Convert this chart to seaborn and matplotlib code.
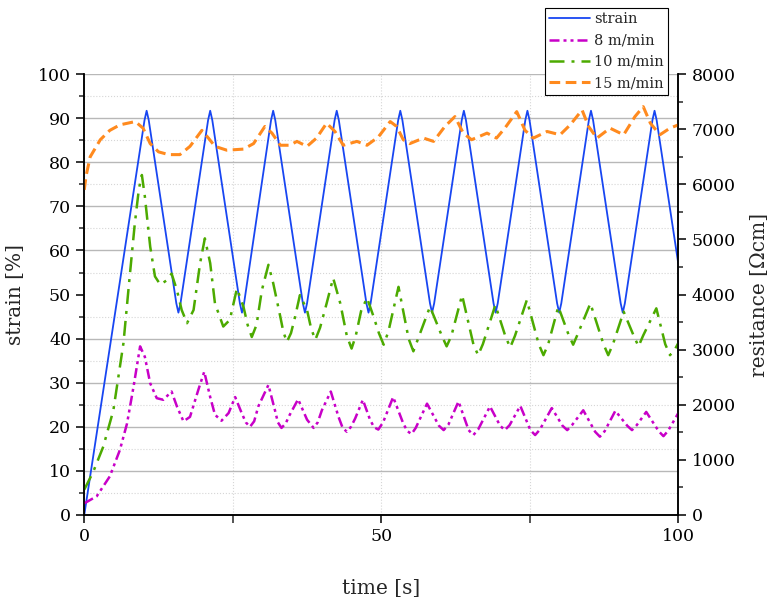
import numpy as np
import pandas as pd
import seaborn as sns
import matplotlib.pyplot as plt
from matplotlib.ticker import MultipleLocator

# strain profile [%] vs time [s]
strain_t = [0.0, 10.15, 10.5, 10.85, 15.5, 15.85, 16.2, 20.85, 21.2, 21.55,
            26.2, 26.55, 26.9, 31.45, 31.8, 32.15, 36.8, 37.15, 37.5, 42.15,
            42.5, 42.85, 47.5, 47.85, 48.2, 52.85, 53.2, 53.55, 58.2, 58.55,
            58.9, 63.55, 63.9, 64.25, 68.9, 69.25, 69.6, 74.25, 74.6, 74.95,
            79.6, 79.95, 80.3, 84.95, 85.3, 85.65, 90.3, 90.65, 91.0, 95.65,
            96.0, 96.35, 100.0]
strain_v = [0.0, 89.6, 91.7, 89.6, 48.0, 45.9, 48.0, 89.6, 91.7, 89.6,
            48.0, 45.9, 48.0, 89.6, 91.7, 89.6, 48.0, 45.9, 48.0, 89.6,
            91.7, 89.6, 48.0, 45.9, 48.0, 89.6, 91.7, 89.6, 48.0, 45.9,
            48.0, 89.6, 91.7, 89.6, 48.0, 45.9, 48.0, 89.6, 91.7, 89.6,
            48.0, 45.9, 48.0, 89.6, 91.7, 89.6, 48.0, 45.9, 48.0, 89.6,
            91.7, 89.6, 57.0]

# resistance [Ohm cm], 8 m/min
r8_t = [0.0, 2.1, 4.3, 6.0, 7.2, 8.3, 9.4, 10.2, 11.1, 12.2, 13.3, 14.7, 15.6,
        16.7, 17.8, 19.2, 20.2, 21.2, 22.0, 23.1, 24.3, 25.4, 26.5, 27.2, 27.9,
        28.6, 29.3, 31.0, 32.1, 32.6, 33.2, 33.9, 34.6, 36.0, 37.5, 38.6, 39.3,
        40.0, 41.5, 42.8, 43.5, 44.2, 44.9, 45.6, 46.9, 48.1, 48.8, 49.5, 50.3,
        52.0, 53.7, 54.4, 55.1, 55.8, 57.7, 59.7, 60.5, 61.3, 63.0, 64.7, 65.5,
        66.3, 68.3, 70.0, 70.8, 71.6, 73.4, 75.1, 75.9, 76.7, 78.7, 80.5, 81.3,
        82.1, 84.0, 86.0, 86.8, 87.6, 89.4, 91.4, 92.2, 93.0, 94.6, 96.7, 97.5,
        98.3, 100.0]
r8_v = [210, 340, 700, 1180, 1660, 2330, 3060, 2870, 2390, 2120, 2090, 2240, 1970,
        1700, 1780, 2270, 2600, 2140, 1820, 1710, 1850, 2140, 1850, 1680, 1600,
        1700, 1970, 2360, 1900, 1680, 1580, 1660, 1820, 2100, 1730, 1580, 1680,
        1900, 2240, 1780, 1580, 1510, 1600, 1750, 2090, 1730, 1590, 1550, 1680,
        2140, 1660, 1520, 1470, 1580, 2020, 1620, 1540, 1640, 2060, 1540, 1450,
        1550, 1970, 1620, 1540, 1630, 1980, 1540, 1450, 1550, 1940, 1620, 1540,
        1630, 1900, 1510, 1420, 1520, 1890, 1620, 1540, 1630, 1870, 1520, 1430,
        1530, 1850]

# resistance [Ohm cm], 10 m/min
r10_t = [0.0, 1.5, 3.2, 4.9, 6.6, 7.5, 8.5, 9.2, 9.7, 10.2, 11.1, 11.9, 12.8,
         13.9, 14.7, 15.6, 16.4, 17.3, 18.4, 19.5, 20.3, 21.2, 22.0, 23.4, 24.5,
         25.7, 26.8, 27.5, 28.2, 29.0, 29.9, 31.0, 31.8, 33.0, 33.5, 34.1, 34.8,
         35.5, 36.3, 37.5, 38.2, 38.9, 39.7, 40.8, 41.9, 43.1, 44.2, 45.0, 45.7,
         46.6, 47.6, 48.7, 49.6, 50.4, 51.2, 52.9, 54.6, 55.4, 56.2, 58.2, 60.2,
         61.0, 61.8, 63.6, 65.5, 66.3, 67.1, 69.2, 70.9, 71.7, 72.5, 74.5, 76.5,
         77.3, 78.1, 79.8, 81.5, 82.3, 83.1, 85.2, 87.4, 88.2, 89.0, 90.8, 92.5,
         93.3, 94.1, 96.3, 97.8, 98.6, 99.3, 100.0]
r10_v = [460, 780, 1240, 1900, 3120, 4160, 5280, 5920, 6170, 5780, 4870, 4330, 4180,
         4260, 4380, 4080, 3720, 3480, 3720, 4570, 5020, 4570, 3840, 3420, 3540,
         4110, 3780, 3450, 3230, 3450, 4080, 4540, 4210, 3600, 3330, 3140, 3300,
         3600, 3990, 3720, 3380, 3180, 3400, 3840, 4300, 3840, 3250, 3020, 3250,
         3700, 3940, 3600, 3300, 3090, 3330, 4140, 3200, 2970, 3200, 3780, 3250,
         3060, 3250, 3990, 3100, 2900, 3100, 3810, 3240, 3040, 3250, 3900, 3100,
         2900, 3100, 3780, 3280, 3090, 3290, 3840, 3100, 2900, 3100, 3690, 3250,
         3060, 3260, 3750, 3100, 2900, 2980, 3120]

# resistance [Ohm cm], 15 m/min
r15_t = [0.0, 0.3, 1.0, 2.7, 4.3, 6.0, 8.6, 9.9, 11.1, 12.5, 14.2, 16.1, 17.8,
         19.8, 20.9, 22.0, 24.0, 26.8, 28.5, 30.4, 31.6, 33.0, 34.6, 35.8, 37.5,
         39.1, 40.8, 42.2, 43.6, 45.9, 47.6, 49.5, 51.5, 52.6, 53.7, 54.8, 57.1,
         58.8, 60.7, 62.4, 63.8, 65.2, 67.8, 69.4, 70.8, 72.8, 74.2, 75.6, 77.9,
         80.1, 81.8, 83.8, 84.9, 86.3, 88.5, 90.8, 92.7, 94.1, 95.3, 96.9, 98.6,
         100.0]
r15_v = [5900, 6150, 6500, 6810, 6980, 7080, 7140, 7020, 6740, 6590, 6540, 6540, 6690,
         6980, 6840, 6690, 6620, 6640, 6740, 7050, 6930, 6710, 6710, 6780, 6690,
         6840, 7110, 6960, 6710, 6780, 6710, 6860, 7140, 7050, 6810, 6740, 6840,
         6780, 7050, 7230, 6930, 6810, 6930, 6840, 7020, 7320, 6980, 6840, 6960,
         6900, 7080, 7350, 7050, 6840, 7020, 6900, 7230, 7410, 7110, 6900, 7020,
         7080]

df_strain = pd.DataFrame({'time': strain_t, 'strain': strain_v})
df8 = pd.DataFrame({'time': r8_t, 'res': r8_v})
df10 = pd.DataFrame({'time': r10_t, 'res': r10_v})
df15 = pd.DataFrame({'time': r15_t, 'res': r15_v})

sns.set_theme(style='ticks')
plt.rcParams['font.family'] = ['DejaVu Serif']
plt.rcParams['mathtext.fontset'] = 'dejavuserif'

fig = plt.figure(figsize=(7.73, 6.03), dpi=100)
ax = fig.add_axes([0.109, 0.146, 0.7685, 0.731])
ax2 = ax.twinx()

# strain on left axis
sns.lineplot(data=df_strain, x='time', y='strain', ax=ax, color='#1846f2',
             lw=1.3, label='strain', estimator=None, sort=False)

# resistance curves on right axis
sns.lineplot(data=df8, x='time', y='res', ax=ax2, color='#c800c8', lw=1.8,
             label='8 m/min', estimator=None, sort=False)
ax2.lines[-1].set_linestyle((0, (4, 1.6, 1.2, 1.6, 1.2, 1.6)))
sns.lineplot(data=df10, x='time', y='res', ax=ax2, color='#4caa00', lw=1.8,
             label='10 m/min', estimator=None, sort=False)
ax2.lines[-1].set_linestyle((0, (6, 2.8, 1.2, 2.8)))
sns.lineplot(data=df15, x='time', y='res', ax=ax2, color='#ff8a1e', lw=2.2,
             label='15 m/min', estimator=None, sort=False)
ax2.lines[-1].set_linestyle((0, (3.5, 1.8)))

# axes limits and ticks
ax.set_xlim(0, 100)
ax.set_ylim(0, 100)
ax2.set_ylim(0, 8000)
ax.xaxis.set_major_locator(MultipleLocator(50))
ax.xaxis.set_minor_locator(MultipleLocator(25))
ax.yaxis.set_major_locator(MultipleLocator(10))
ax.yaxis.set_minor_locator(MultipleLocator(5))
ax2.yaxis.set_major_locator(MultipleLocator(1000))
ax2.yaxis.set_minor_locator(MultipleLocator(500))

for a in (ax, ax2):
    a.tick_params(which='major', direction='out', length=6, width=1.1,
                  labelsize=12.5, colors='black')
    a.tick_params(which='minor', direction='out', length=3.5, width=1.1)
    a.spines['top'].set_visible(False)
    for s in a.spines.values():
        s.set_linewidth(1.1)
        s.set_color('black')
ax.tick_params(axis='x', which='minor', length=6)
ax2.grid(False)

# grid
ax.grid(False)
ax.yaxis.grid(True, which='major', color='#b8b8b8', lw=1.0, ls='-')
ax.yaxis.grid(True, which='minor', color='#d6d6d6', lw=0.8, ls=':')
ax.xaxis.grid(True, which='both', color='#d6d6d6', lw=0.8, ls=':')
for tk in ax.yaxis.get_major_ticks():
    if tk.get_loc() >= 100:
        tk.gridline.set_visible(False)
ax.set_axisbelow(True)

ax.set_xlabel('time [s]', fontsize=14.5)
ax.set_ylabel('strain [%]', fontsize=14.5)
ax2.set_ylabel('resitance [Ωcm]', fontsize=14.5)
ax.xaxis.set_label_coords(0.5, -0.145)
ax.yaxis.set_label_coords(-0.1, 0.5)
ax2.yaxis.set_label_coords(1.12, 0.5)

# legend
h1, l1 = ax.get_legend_handles_labels()
h2, l2 = ax2.get_legend_handles_labels()
if ax.get_legend():
    ax.get_legend().remove()
if ax2.get_legend():
    ax2.get_legend().remove()
leg = fig.legend(h1 + h2, l1 + l2, loc='upper right',
                 bbox_to_anchor=(668 / 773, 1 - 8 / 603), fontsize=10.5,
                 frameon=True, fancybox=False, framealpha=1, edgecolor='black',
                 handlelength=2.8, handletextpad=0.25, labelspacing=0.5,
                 borderpad=0.3, borderaxespad=0)
leg.get_frame().set_linewidth(0.8)

fig.savefig('out.png', dpi=100)
